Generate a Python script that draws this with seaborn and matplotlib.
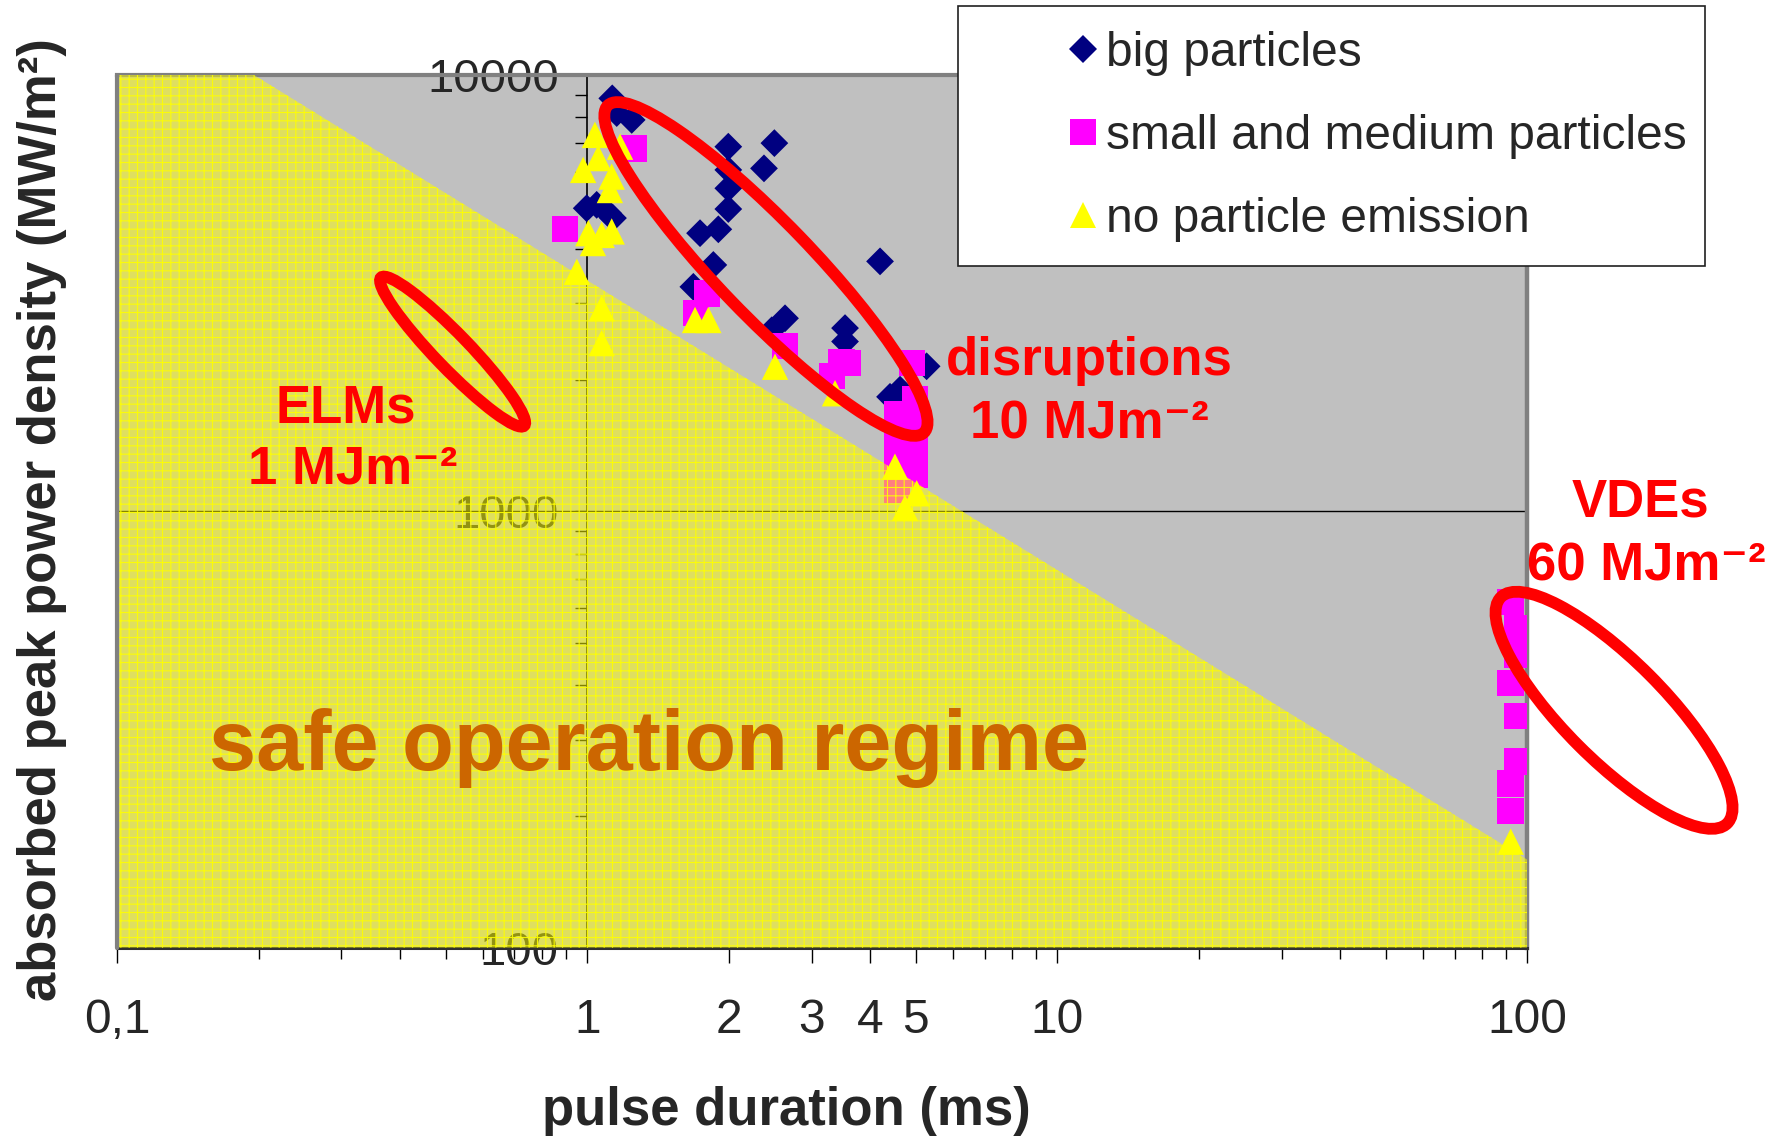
import numpy as np
import pandas as pd
import matplotlib
matplotlib.use("Agg")
import matplotlib.pyplot as plt
import matplotlib.transforms as mtransforms
from matplotlib.patches import Polygon, Ellipse, Rectangle
from matplotlib.lines import Line2D
from matplotlib.ticker import LogLocator, NullFormatter
import seaborn as sns

# pulse duration (ms) and absorbed peak power density (MW/m²) per sample
big_t = [1.13, 1.155, 1.243, 0.997, 1.047, 1.108, 1.134, 1.995, 2.50, 2.376,
         1.995, 1.995, 1.995, 1.737, 1.90, 1.854, 1.681, 4.195, 2.634, 2.468,
         3.534, 3.534, 5.27, 4.405, 4.627]
big_p = [8840, 8180, 7890, 4950, 5040, 4820, 4700, 6850, 6980, 6110,
         6060, 5500, 4930, 4340, 4430, 3670, 3270, 3740, 2770, 2600,
         2630, 2450, 2150, 1830, 1900]

small_t = [0.897, 1.253, 1.80, 1.701, 2.634, 3.47, 3.58, 3.311, 4.906,
           4.98, 4.56, 4.98, 4.56, 4.98, 4.56, 4.98, 4.56,
           92.1, 95.1, 95.1, 92.1, 95.1, 95.1, 92.1, 92.1]
small_p = [4440, 6790, 3160, 2850, 2390, 2200, 2190, 2040, 2190,
           1810, 1670, 1580, 1460, 1380, 1280, 1210, 1120,
           620, 540, 470, 404, 340, 267, 238, 206]

none_t = [1.038, 0.98, 1.055, 1.127, 1.117, 1.174, 1.005, 1.073, 1.127, 1.028,
          0.95, 1.073, 1.073, 1.695, 1.809, 2.508, 3.365, 4.513, 5.02, 4.741,
          92.1]
none_p = [7290, 6060, 6450, 5850, 5450, 6850, 4340, 4300, 4380, 4120,
          3540, 2920, 2430, 2745, 2745, 2145, 1865, 1266, 1100, 1018,
          175]

categories = ["big particles", "small and medium particles", "no particle emission"]
colors = dict(zip(categories, ["#000080", "#FF00FF", "#FFFF00"]))
markers = dict(zip(categories, ["D", "s", "^"]))
sizes = dict(zip(categories, [200, 361, 361]))

# boundary of the safe operation regime (duration, power density)
limit_t = [0.1954, 100]
limit_p = [10000, 159]

x_tick_values = [0.1, 1, 2, 3, 4, 5, 10, 100]
x_tick_labels = ["0,1", "1", "2", "3", "4", "5", "10", "100"]
y_tick_values = [100, 1000, 10000]
y_tick_labels = ["100", "1000", "10000"]

df = pd.DataFrame({
    "duration": big_t + small_t + none_t,
    "power": big_p + small_p + none_p,
    "category": [categories[0]] * len(big_t)
    + [categories[1]] * len(small_t)
    + [categories[2]] * len(none_t),
})

sns.set_style("white")
plt.rcParams["font.family"] = ["Liberation Sans", "DejaVu Sans"]
plt.rcParams["hatch.linewidth"] = 0.8

fig = plt.figure(figsize=(17.82, 11.37), dpi=100)
fig.patch.set_facecolor("white")
ax = fig.add_axes([0.06577, 0.16649, 0.79141, 0.76755])
ax.set_xscale("log")
ax.set_yscale("log")
ax.set_facecolor("#C0C0C0")

sns.scatterplot(data=df, x="duration", y="power", hue="category",
                style="category", size="category", palette=colors,
                markers=markers, sizes=sizes, hue_order=categories,
                style_order=categories, size_order=categories,
                linewidth=0, legend=False, ax=ax, zorder=3)

# reference line at 1000 MW/m²
ax.axhline(1000, color="black", lw=1, zorder=2)

# translucent, gridded yellow region below the damage threshold
safe = Polygon([(0.1, 10000), (limit_t[0], limit_p[0]), (limit_t[1], limit_p[1]),
                (100, 100), (0.1, 100)], closed=True,
               facecolor=(1, 1, 0, 0.5), edgecolor=(1, 1, 0, 0.9),
               linewidth=0, hatch="++", zorder=5)
ax.add_patch(safe)

ax.set_xlim(0.1, 100)
ax.set_ylim(100, 10000)

# axes frame: inner value axis at 1 ms
ax.spines["left"].set_position(("data", 1))
ax.spines["left"].set_color("black")
ax.spines["left"].set_linewidth(1.2)
ax.spines["bottom"].set_color("#303030")
ax.spines["bottom"].set_linewidth(2.2)
ax.spines["top"].set_color("#808080")
ax.spines["top"].set_linewidth(3)
ax.spines["right"].set_color("#808080")
ax.spines["right"].set_linewidth(3.2)
ax.add_artist(Line2D([0, 0], [0, 1], transform=ax.transAxes, color="#808080",
                     lw=3, clip_on=False, zorder=6))

ax.set_xticks(x_tick_values, labels=x_tick_labels)
ax.xaxis.set_minor_locator(LogLocator(base=10, subs=np.arange(2, 10), numticks=20))
ax.xaxis.set_minor_formatter(NullFormatter())
ax.set_yticks(y_tick_values, labels=y_tick_labels)
ax.yaxis.set_minor_locator(LogLocator(base=10, subs=np.arange(2, 10), numticks=20))
ax.yaxis.set_minor_formatter(NullFormatter())
ax.tick_params(axis="x", which="major", direction="out", length=10.8, width=1,
               color="black", pad=25.5, labelsize=34.5, bottom=True)
ax.tick_params(axis="x", which="minor", direction="out", length=8, width=1,
               color="black", bottom=True)
ax.tick_params(axis="y", which="both", direction="out", length=8.6, width=1,
               color="black", pad=12, labelsize=34, left=True)

ax.set_xlabel("pulse duration (ms)", fontsize=38, fontweight="bold")
ax.xaxis.set_label_coords(0.4742, -0.1585)
ax.xaxis.label.set_verticalalignment("top")
ax.set_ylabel("absorbed peak power density (MW/m²)", fontsize=38, fontweight="bold")
ax.yaxis.set_label_coords(-0.053, 0.4901)
ax.yaxis.label.set(ha="center", va="center", rotation_mode="default")

ax.text(1.356, 255, "safe operation regime", color="#CC6600", fontsize=61,
        fontweight="bold", ha="center", va="baseline", zorder=6)

red_labels = [
    (0.306, 1596, "ELMs"), (0.3172, 1156, "1 MJm⁻²"),
    (11.67, 2054, "disruptions"), (11.7, 1468, "10 MJm⁻²"),
    (173.9, 971, "VDEs"), (179.4, 694, "60 MJm⁻²"),
]
for x, y, s in red_labels:
    ax.text(x, y, s, color="#FF0000", fontsize=38, fontweight="bold",
            family=["Liberation Sans", "DejaVu Sans"],
            ha="center", va="baseline", zorder=7, clip_on=False)


def ring(cx, cy, w_px, h_px, angle):
    tr = fig.dpi_scale_trans + mtransforms.ScaledTranslation(cx, cy, ax.transData)
    e = Ellipse((0, 0), w_px / fig.dpi, h_px / fig.dpi, angle=angle,
                transform=tr, fill=False, edgecolor="#FF0000", lw=8.5,
                clip_on=False, zorder=8)
    ax.add_artist(e)


ring(0.517, 2323, 206, 34, -46)
ring(2.399, 3593, 455, 94, -46)
ring(152.8, 350, 320, 100, -45)

# legend box
fig.add_artist(Rectangle((958 / 1782, 1 - 266 / 1137), 747 / 1782, 260 / 1137,
                         transform=fig.transFigure, facecolor="white",
                         edgecolor="#202020", lw=1.2, zorder=9))
handles = [Line2D([], [], ls="none", marker=markers[c], markersize=np.sqrt(sizes[c]),
                  markerfacecolor=colors[c], markeredgewidth=0) for c in categories]
leg = fig.legend(handles, categories, loc="upper left",
                 bbox_to_anchor=(1064 / 1782, 1 - 31 / 1137), frameon=False,
                 fontsize=34.5, handlelength=0.8, handletextpad=0.08,
                 labelspacing=0.79, borderpad=0, borderaxespad=0)
leg.set_zorder(10)

fig.savefig("out.png", dpi=100, facecolor="white")
